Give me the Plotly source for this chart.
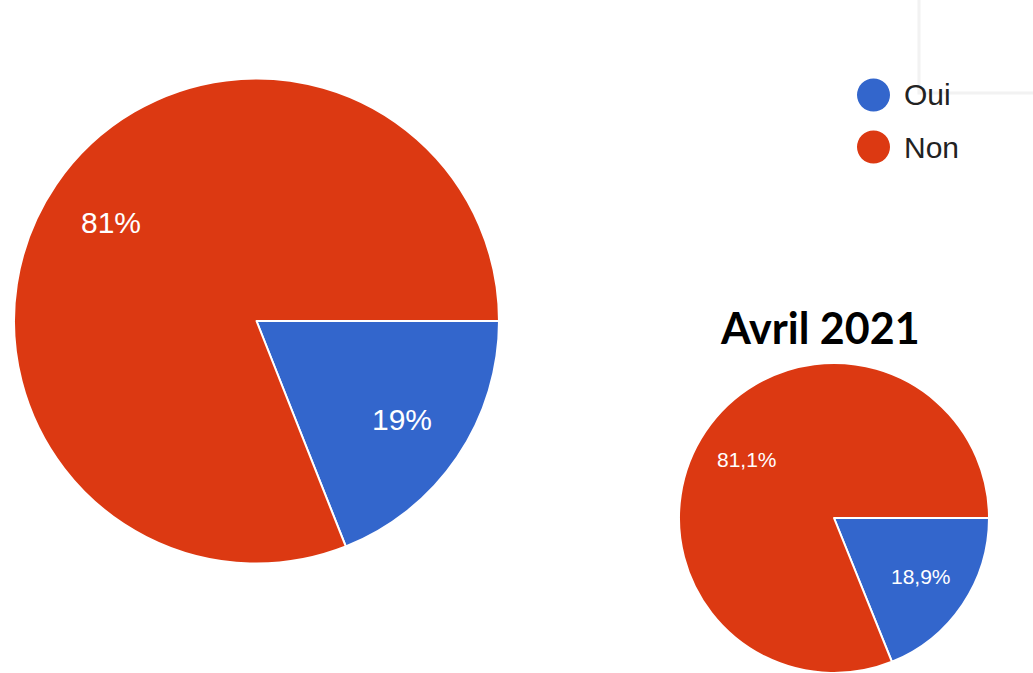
import math
import plotly.graph_objects as go

# Data
labels = ["Oui", "Non"]
colors = ["#3366CC", "#DC3912"]
values_total = [19, 81]          # large pie (%)
values_april = [18.9, 81.1]      # small pie, "Avril 2021" (%)
text_total = ["19%", "81%"]
text_april = ["18,9%", "81,1%"]
title_april = "Avril 2021"

W, H = 1033, 673
FONT = "Liberation Sans, Arial, sans-serif"

fig = go.Figure()
annotations = []


def add_pie(values, texts, dom_x, dom_y, font_size, label_frac):
    fig.add_trace(go.Pie(
        labels=labels, values=values, sort=False, direction="clockwise", rotation=90,
        marker=dict(colors=colors, line=dict(color="white", width=2)),
        textinfo="none", domain=dict(x=dom_x, y=dom_y),
        showlegend=False, hoverinfo="label+percent",
    ))
    # slice labels placed along each slice's mid-angle (computed from the values)
    cx = (dom_x[0] + dom_x[1]) / 2
    cy = (dom_y[0] + dom_y[1]) / 2
    r = min((dom_x[1] - dom_x[0]) * W, (dom_y[1] - dom_y[0]) * H) / 2
    total = sum(values)
    cum = 0
    for v, t in zip(values, texts):
        mid = math.radians((cum + v / 2) / total * 360)
        cum += v
        dx = math.cos(mid) * r * label_frac
        dy = math.sin(mid) * r * label_frac
        annotations.append(dict(
            text=t, x=cx + dx / W, y=cy - dy / H, xref="paper", yref="paper",
            xanchor="center", yanchor="middle", showarrow=False,
            font=dict(family=FONT, size=font_size, color="white"),
        ))


add_pie(values_total, text_total, [14 / W, 499 / W], [1 - 564 / H, 1 - 78 / H], 30, 0.725)
add_pie(values_april, text_april, [679 / W, 989 / W], [0, 310 / H], 21, 0.68)

annotations.append(dict(
    text="<b>" + title_april + "</b>", x=820 / W, y=1 - 327 / H, xref="paper", yref="paper",
    xanchor="center", yanchor="middle", showarrow=False,
    font=dict(family="Lato, Open Sans, sans-serif", size=43, color="black"),
))
shapes = [dict(type="rect", xref="paper", yref="paper", x0=919 / W, x1=1.02, y0=1 - 93 / H, y1=1.02,
               line=dict(color="#f2f2f2", width=3), fillcolor="rgba(0,0,0,0)", layer="below")]

# Legend (circle markers + labels)
for i, (lab, col) in enumerate(zip(labels, colors)):
    yc = 1 - (95 + 52 * i) / H
    shapes.append(dict(type="circle", xref="paper", yref="paper",
                       xsizemode="pixel", ysizemode="pixel",
                       xanchor=873.5 / W, yanchor=yc, x0=-16.5, x1=16.5, y0=-16.5, y1=16.5,
                       fillcolor=col, line=dict(width=0)))
    annotations.append(dict(text=lab, x=902 / W, y=yc, xref="paper", yref="paper",
                            xanchor="left", yanchor="middle", showarrow=False,
                            font=dict(family=FONT, size=30, color="#222222")))

fig.update_layout(
    width=W, height=H, margin=dict(l=0, r=0, t=0, b=0),
    paper_bgcolor="white", plot_bgcolor="white",
    annotations=annotations, shapes=shapes,
)

fig.write_html("out.html", config={"displayModeBar": False},
               post_script="document.body.style.margin='0';")
